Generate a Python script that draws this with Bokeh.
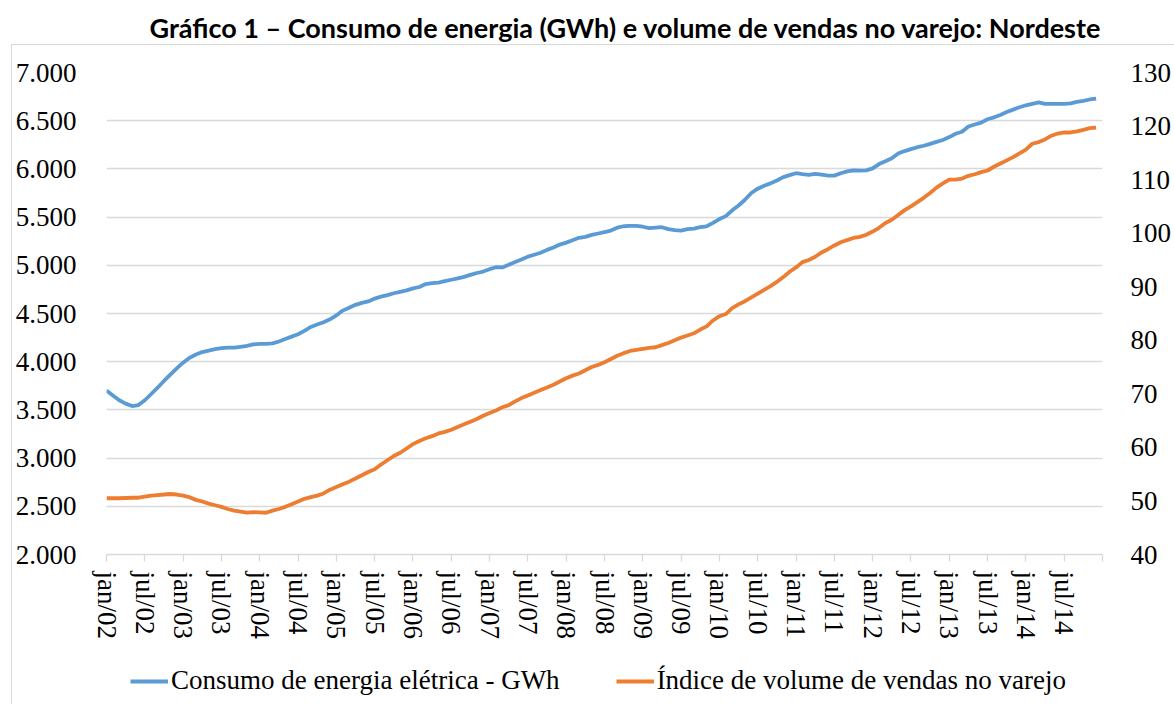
from bokeh.plotting import figure
from bokeh.models import Range1d, LinearAxis, FixedTicker, Legend, LegendItem
from bokeh.layouts import column
from bokeh.embed import file_html
from bokeh.resources import INLINE

title_text = "Gráfico 1 – Consumo de energia (GWh) e volume de vendas no varejo: Nordeste"
series_energy_name = "Consumo de energia elétrica - GWh"
series_retail_name = "Índice de volume de vendas no varejo"

# month index 0 = jan/02 ... 155 = dez/14
months = list(range(156))

energy_gwh = [
    3700, 3650, 3600, 3565, 3540, 3550, 3600, 3665, 3730, 3800, 3865, 3930,
    3990, 4040, 4075, 4100, 4115, 4130, 4140, 4145, 4145, 4155, 4165, 4180,
    4185, 4185, 4190, 4210, 4235, 4260, 4285, 4320, 4360, 4385, 4410, 4440,
    4480, 4530, 4560, 4590, 4610, 4625, 4655, 4675, 4690, 4710, 4725, 4740,
    4760, 4775, 4805, 4815, 4820, 4835, 4850, 4865, 4880, 4900, 4920, 4935,
    4960, 4980, 4978, 5005, 5035, 5060, 5090, 5110, 5130, 5160, 5185, 5215,
    5235, 5260, 5285, 5295, 5315, 5330, 5345, 5360, 5390, 5405, 5410, 5410,
    5400, 5385, 5390, 5395, 5375, 5365, 5360, 5375, 5380, 5395, 5405, 5440,
    5480, 5510, 5570, 5620, 5680, 5750, 5795, 5825, 5850, 5880, 5915, 5935,
    5955, 5945, 5938, 5948, 5940, 5930, 5930, 5955, 5975, 5985, 5983, 5985,
    6005, 6050, 6080, 6110, 6160, 6185, 6205, 6225, 6240, 6260, 6280, 6300,
    6330, 6365, 6385, 6440, 6460, 6480, 6515, 6535, 6560, 6590, 6615, 6640,
    6660, 6675, 6690, 6675, 6675, 6675, 6675, 6680, 6695, 6705, 6720, 6730,
]

retail_index = [
    50.5, 50.5, 50.5, 50.55, 50.6, 50.6, 50.8, 51.0, 51.1, 51.2, 51.3, 51.2,
    51.0, 50.7, 50.2, 49.9, 49.5, 49.2, 48.9, 48.5, 48.2, 48.0, 47.8, 47.9,
    47.85, 47.8, 48.2, 48.5, 48.9, 49.4, 49.9, 50.4, 50.7, 51.0, 51.4, 52.1,
    52.6, 53.1, 53.6, 54.2, 54.8, 55.4, 55.9, 56.8, 57.6, 58.4, 59.0, 59.8,
    60.6, 61.2, 61.7, 62.1, 62.6, 62.9, 63.3, 63.8, 64.3, 64.8, 65.3, 65.9,
    66.4, 66.9, 67.5, 67.9, 68.6, 69.2, 69.7, 70.2, 70.7, 71.2, 71.7, 72.3,
    72.9, 73.4, 73.8, 74.4, 75.0, 75.4, 75.9, 76.5, 77.1, 77.6, 78.0, 78.2,
    78.4, 78.6, 78.7, 79.1, 79.5, 80.0, 80.5, 80.9, 81.3, 82.0, 82.6, 83.7,
    84.5, 84.9, 86.0, 86.7, 87.3, 88.0, 88.7, 89.4, 90.1, 90.9, 91.8, 92.8,
    93.6, 94.6, 95.0, 95.6, 96.4, 97.0, 97.7, 98.3, 98.7, 99.1, 99.3, 99.7,
    100.3, 101.0, 101.9, 102.5, 103.4, 104.3, 105.0, 105.8, 106.6, 107.5, 108.5, 109.3,
    110.0, 110.0, 110.2, 110.7, 111.0, 111.4, 111.7, 112.4, 113.0, 113.6, 114.2, 114.9,
    115.6, 116.7, 117.0, 117.5, 118.2, 118.6, 118.8, 118.8, 119.0, 119.3, 119.6, 119.7,
]

x_tick_labels = [
    "jan/02", "jul/02", "jan/03", "jul/03", "jan/04", "jul/04", "jan/05", "jul/05",
    "jan/06", "jul/06", "jan/07", "jul/07", "jan/08", "jul/08", "jan/09", "jul/09",
    "jan/10", "jul/10", "jan/11", "jul/11", "jan/12", "jul/12", "jan/13", "jul/13",
    "jan/14", "jul/14",
]
x_tick_positions = [6 * i for i in range(len(x_tick_labels))] + [156]

left_ticks = [2000, 2500, 3000, 3500, 4000, 4500, 5000, 5500, 6000, 6500, 7000]
left_tick_labels = ["2.000", "2.500", "3.000", "3.500", "4.000", "4.500",
                    "5.000", "5.500", "6.000", "6.500", "7.000"]
right_ticks = [40, 50, 60, 70, 80, 90, 100, 110, 120, 130]

BLUE = "#5B9BD5"
ORANGE = "#ED7D31"
GRID = "#D9D9D9"
SERIF = "Liberation Serif"
FS = "27px"
LW = 3.8
LINE_CSS = "linear-gradient(#D9D9D9, #D9D9D9)"

# ---------------- main chart ----------------
p = figure(width=1174, height=654, output_backend="svg", toolbar_location=None,
           x_range=Range1d(0, 156), y_range=Range1d(2000, 7000),
           min_border_left=106, min_border_top=72, min_border_right=63, min_border_bottom=100)
# light chart-area border (top and left edges) drawn behind a transparent canvas
p.border_fill_color = None
p.background_fill_color = None
p.styles = {
    "background-image": LINE_CSS + ", " + LINE_CSS,
    "background-repeat": "no-repeat, no-repeat",
    "background-position": "11px 44px, 11px 44px",
    "background-size": "100% 1px, 1px 100%",
}
p.outline_line_color = None
p.extra_y_ranges = {"idx": Range1d(40, 130)}

# title sits above the chart-area border: an empty second line (tight line height)
# lets the title box fill the top band so the text is drawn higher
p.title.text = title_text + "\n"
p.title.text_font = "Lato"
p.title.text_font_style = "bold"
p.title.text_font_size = "27px"
p.title.text_color = "#000000"
p.title.text_line_height = 0.55
p.title.align = "left"
p.title.offset = 43
p.title.vertical_align = "top"
p.title.standoff = 18

p.xgrid.visible = False
p.ygrid.grid_line_color = GRID
p.ygrid.grid_line_width = 1.3
p.ygrid.ticker = FixedTicker(ticks=left_ticks)

xa = p.xaxis[0]
xa.ticker = FixedTicker(ticks=x_tick_positions)
overrides = {x_tick_positions[i]: x_tick_labels[i] for i in range(len(x_tick_labels))}
overrides[156] = ""
xa.major_label_overrides = overrides
xa.major_label_orientation = "vertical"
xa.axis_line_color = GRID
xa.axis_line_width = 1.3
xa.major_tick_line_color = GRID
xa.major_tick_line_width = 1.3
xa.major_tick_out = 7
xa.major_tick_in = 0
xa.minor_tick_line_color = None
xa.major_label_standoff = 10
xa.major_label_text_font = SERIF
xa.major_label_text_font_size = FS
xa.major_label_text_color = "#000000"

ya = p.yaxis[0]
ya.ticker = FixedTicker(ticks=left_ticks)
ya.major_label_overrides = {left_ticks[i]: left_tick_labels[i] for i in range(len(left_ticks))}
ya.axis_line_color = None
ya.major_tick_line_color = None
ya.minor_tick_line_color = None
ya.major_label_standoff = 24
ya.major_label_text_font = SERIF
ya.major_label_text_font_size = FS
ya.major_label_text_color = "#000000"

ra = LinearAxis(y_range_name="idx", ticker=FixedTicker(ticks=right_ticks))
ra.axis_line_color = None
ra.major_tick_line_color = None
ra.minor_tick_line_color = None
ra.major_label_standoff = 22
ra.major_label_text_font = SERIF
ra.major_label_text_font_size = FS
ra.major_label_text_color = "#000000"
p.add_layout(ra, "right")

p.line(months, energy_gwh, line_color=BLUE, line_width=LW, line_join="round")
p.line(months, retail_index, line_color=ORANGE, line_width=LW, line_join="round",
       y_range_name="idx")

# ---------------- legend strip ----------------
lg = figure(width=1174, height=50, output_backend="svg", toolbar_location=None,
            x_range=Range1d(0, 1), y_range=Range1d(0, 1), min_border=0,
            x_axis_location=None, y_axis_location=None)
lg.grid.visible = False
lg.outline_line_color = None
lg.border_fill_color = None
lg.background_fill_color = None
lg.styles = {
    "background-image": LINE_CSS,
    "background-repeat": "no-repeat",
    "background-position": "11px 0px",
    "background-size": "1px 100%",
}
# legend proxies: same series, but they fall outside this strip's ranges (nothing drawn)
k1 = lg.line(months, energy_gwh, line_color=BLUE, line_width=LW)
k2 = lg.line(months, retail_index, line_color=ORANGE, line_width=LW)

legend = Legend(items=[LegendItem(label=series_energy_name, renderers=[k1]),
                       LegendItem(label=series_retail_name, renderers=[k2])],
                orientation="horizontal", location=(24, 8))
legend.label_text_font = SERIF
legend.label_text_font_size = FS
legend.label_text_color = "#000000"
legend.glyph_width = 38
legend.glyph_height = 20
legend.label_standoff = 3
legend.spacing = 56
legend.padding = 0
legend.margin = 0
legend.border_line_color = None
legend.background_fill_alpha = 0
lg.add_layout(legend, "center")

layout = column(p, lg, spacing=0)
open("out.html", "w").write(file_html(layout, INLINE))
